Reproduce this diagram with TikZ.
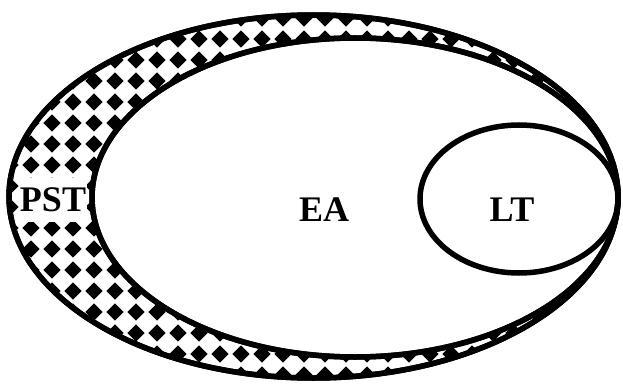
\documentclass[tikz,border=0pt]{standalone}
\usepackage{fontspec}
\setmainfont{Liberation Serif}[BoldFont={Liberation Serif Bold}]
\usetikzlibrary{shapes.geometric,patterns}

% black diamonds on white
\pgfdeclarepatternformonly{diamonds}{\pgfpointorigin}{\pgfpoint{21pt}{21pt}}{\pgfpoint{21pt}{21pt}}{%
    \pgfpathmoveto{\pgfpoint{10.5pt}{1.5pt}}%
    \pgfpathlineto{\pgfpoint{19.5pt}{10.5pt}}%
    \pgfpathlineto{\pgfpoint{10.5pt}{19.5pt}}%
    \pgfpathlineto{\pgfpoint{1.5pt}{10.5pt}}%
    \pgfpathclose
    \pgfusepath{fill}}

\begin{document}
\begin{tikzpicture}[
        x=1pt, y=-1pt,
        set/.style={draw, ellipse, line width=5.5pt, inner sep=0pt},
        lbl/.style={font=\rmfamily\bfseries\fontsize{36}{36}\selectfont, inner sep=0pt},
    ]
        \useasboundingbox (0,0) rectangle (623,385);

        % Sets
        \node[set, pattern=diamonds, minimum width=609pt, minimum height=363pt] (pst) at (313.5,196.5) {};
        \node[lbl, fill=white, inner xsep=1pt, inner ysep=10pt] (pstlbl) at (53,200) {PST};
        \node[set, fill=white, minimum width=526pt, minimum height=319pt] (ea) at (355,197.5) {};
        \node[set, minimum width=198pt, minimum height=148pt] (lt) at (519,199) {};

        % outlines on top of the label box
        \draw[line width=5.5pt] (pst.center) ellipse [x radius=304.5pt, y radius=181.5pt];
        \draw[line width=5.5pt] (ea.center) ellipse [x radius=263pt, y radius=159.5pt];

        % Labels
        \node[lbl] (ealbl) at (324,209.5) {EA};
        \node[lbl] (ltlbl) at (512,209.5) {LT};
\end{tikzpicture}
\end{document}
